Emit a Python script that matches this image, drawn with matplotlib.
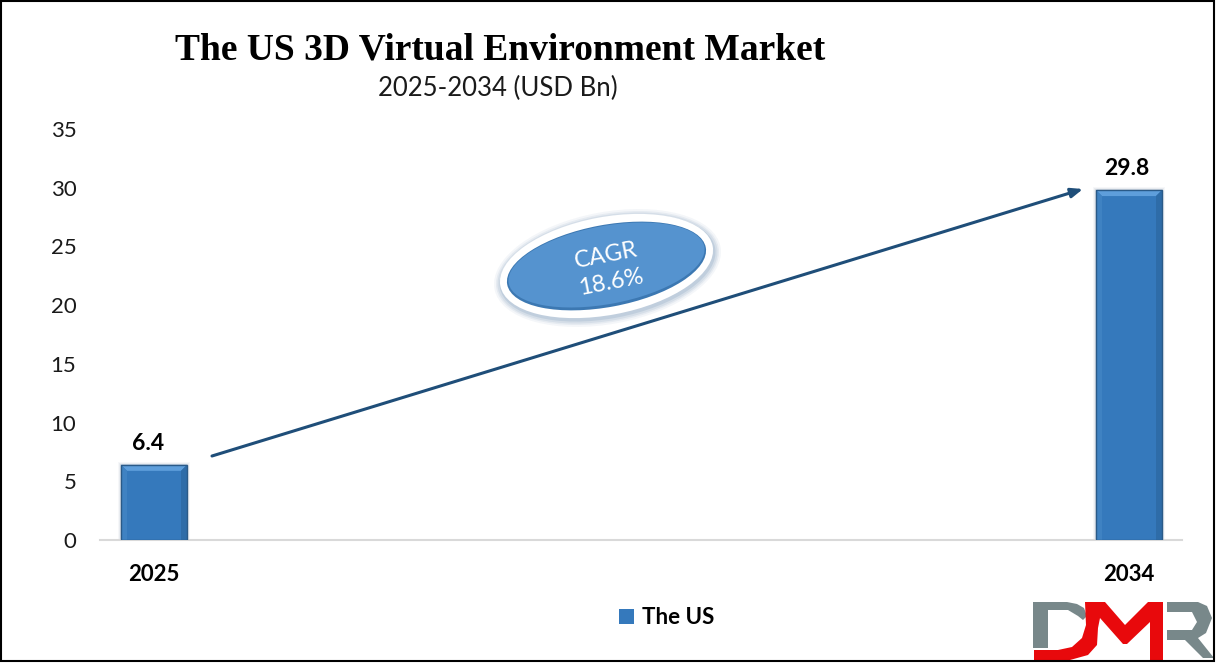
import matplotlib
matplotlib.use("Agg")
import matplotlib.pyplot as plt
from matplotlib.patches import Ellipse, Polygon, Rectangle
from matplotlib.transforms import IdentityTransform

categories = ["2025", "2034"]
values = [6.4, 29.8]
series_name = "The US"
y_ticks = [0, 5, 10, 15, 20, 25, 30, 35]
title = "The US 3D Virtual Environment Market"
subtitle = "2025-2034 (USD Bn)"
cagr_text = "CAGR\n18.6%"

W, H = 1216, 663
BLUE = "#3579BC"
plt.rcParams["font.family"] = ["Lato", "DejaVu Sans"]

fig = plt.figure(figsize=(W / 100, H / 100), dpi=100, facecolor="white")


def px(x, y):
    """Reference pixel (origin top-left) to display coordinates."""
    return (x, H - y)


ax = fig.add_axes([100 / W, (H - 540) / H, (1182 - 100) / W, (540 - 129) / H])
ax.set_ylim(0, 35)
ax.set_xlim(-54 / 975, 1 + 53 / 975)
ax.set_yticks(y_ticks)
ax.set_xticks(range(len(categories)))
ax.set_xticklabels(categories, fontweight="bold", fontsize=16, color="black")
ax.tick_params(axis="y", length=0, labelsize=16, labelcolor="#1A1A1A", pad=17)
ax.tick_params(axis="x", length=0, pad=17)
for side in ("top", "right", "left"):
    ax.spines[side].set_visible(False)
ax.spines["bottom"].set_color("#D9D9D9")
ax.spines["bottom"].set_linewidth(1.5)
ax.patch.set_alpha(0)

bars = ax.bar(range(len(categories)), values, width=66 / 975, color=BLUE, label=series_name, zorder=3)
fig.canvas.draw()

# Bevel and soft shadow of each bar
for bar, val, dx in zip(bars, values, (-6, -2)):
    x0, y0 = ax.transData.transform((bar.get_x(), 0))
    x1, y1 = ax.transData.transform((bar.get_x() + bar.get_width(), val))
    b = 6
    for d, a in ((3, 0.04), (2, 0.06), (1, 0.10)):
        ax.add_patch(Rectangle((x0 - d, y0), x1 - x0 + 2 * d, y1 - y0 + d, transform=IdentityTransform(),
                               fc="#1F3F66", ec="none", alpha=a, zorder=2))
    faces = [
        ([(x0, y1), (x1, y1), (x1 - b, y1 - b), (x0 + b, y1 - b)], "#5E9EDB"),
        ([(x0, y0), (x0, y1), (x0 + b, y1 - b), (x0 + b, y0)], "#3F82C2"),
        ([(x1, y0), (x1, y1), (x1 - b, y1 - b), (x1 - b, y0)], "#2E6CA8"),
    ]
    for pts, col in faces:
        ax.add_patch(Polygon(pts, closed=True, transform=IdentityTransform(), fc=col, ec="none", zorder=4))
    ax.add_patch(Rectangle((x0, y0), x1 - x0, y1 - y0, transform=IdentityTransform(),
                           fc="none", ec="#2A5A88", lw=1.0, zorder=5))
    ax.annotate(f"{val}", (bar.get_x() + bar.get_width() / 2, val), xytext=(dx, 11),
                textcoords="offset pixels", ha="center", va="bottom",
                fontsize=16.5, fontweight="bold", color="black", zorder=6)

# Growth arrow
ax.annotate("", xy=px(1083, 189), xytext=px(212, 456), xycoords="figure pixels", textcoords="figure pixels",
            arrowprops=dict(arrowstyle="-|>,head_length=0.7,head_width=0.28", color="#1F4E79", lw=2.2,
                            shrinkA=0, shrinkB=0), zorder=6)

# CAGR badge
cx, cy = px(606.5, 266)
for grow, a in ((14, 0.05), (10, 0.07), (7, 0.09), (3, 0.12)):
    fig.add_artist(Ellipse((cx + 1, cy - 2), 216 + grow, 98 + grow, angle=10.6, transform=IdentityTransform(),
                           fc="#2F5F8F", ec="none", alpha=a, zorder=5))
fig.add_artist(Ellipse((cx, cy), 216, 98, angle=10.6, transform=IdentityTransform(), fc="white", ec="none", zorder=6))
fig.add_artist(Ellipse((cx, cy), 202, 82, angle=10.6, transform=IdentityTransform(), fc="#3C78B2", ec="none", zorder=7))
fig.add_artist(Ellipse((cx, cy + 1), 199, 78, angle=10.6, transform=IdentityTransform(), fc="#5593CF", ec="none", zorder=8))
fig.text((cx + 2) / W, (cy - 3) / H, cagr_text, ha="center", va="center", rotation=11, rotation_mode="anchor",
         color="white", fontsize=17, linespacing=1.35, zorder=9)

# Titles
fig.text(500 / W, (H - 50) / H, title, ha="center", va="center", family="Liberation Serif",
         fontweight="bold", fontsize=27, color="black")
fig.text(498 / W, (H - 88) / H, subtitle, ha="center", va="center", fontsize=18.5, color="#1A1A1A")

# Legend
fig.legend(handles=[bars[0]], labels=[series_name], loc="center", bbox_to_anchor=(667 / W, (H - 618) / H),
           frameon=False, handlelength=0.65, handleheight=0.65, handletextpad=0.4,
           prop={"weight": "bold", "size": 16, "family": "Lato"})

# DMR logo
GRAY, RED = "#78888A", "#E8090C"
logo = [
    ([(1033, 602), (1067, 602), (1077, 604), (1084, 608), (1087, 616), (1083, 620), (1078, 616), (1068, 610),
      (1048, 610), (1048, 648), (1033, 648)], GRAY),
    ([(1167, 602), (1198, 602), (1207, 606), (1212, 618), (1206, 633), (1198, 638), (1214, 658), (1203, 658),
      (1185, 640), (1167, 640), (1167, 630), (1192, 630), (1197, 622), (1192, 612), (1167, 612)], GRAY),
    ([(1034, 650), (1058, 650), (1072, 647), (1082, 638), (1086, 625), (1085, 602), (1105, 602), (1125, 625),
      (1148, 602), (1163, 602), (1163, 660), (1150, 660), (1150, 622), (1127, 644), (1123, 644), (1100, 618),
      (1098, 628), (1097, 645), (1088, 655), (1070, 660), (1034, 660)], RED),
]
for pts, col in logo:
    fig.add_artist(Polygon([px(*p) for p in pts], closed=True, transform=IdentityTransform(), fc=col, ec="none", zorder=10))

# Image border
fig.add_artist(Rectangle(px(1, 661), 1213, 660, transform=IdentityTransform(), fc="none", ec="black", lw=1.5, zorder=11))

fig.savefig("out.png", dpi=100, facecolor="white")
